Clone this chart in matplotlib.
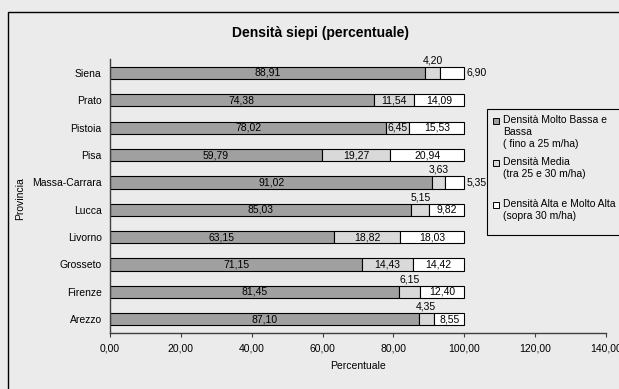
import numpy as np
import matplotlib
matplotlib.use("Agg")
import matplotlib.pyplot as plt
from matplotlib.patches import Rectangle

plt.rcParams['font.family'] = ['Liberation Sans', 'DejaVu Sans']

# Province, bottom to top
province = ['Arezzo', 'Firenze', 'Grosseto', 'Livorno', 'Lucca',
            'Massa-Carrara', 'Pisa', 'Pistoia', 'Prato', 'Siena']
bassa = [87.10, 81.45, 71.15, 63.15, 85.03, 91.02, 59.79, 78.02, 74.38, 88.91]
media = [4.35, 6.15, 14.43, 18.82, 5.15, 3.63, 19.27, 6.45, 11.54, 4.20]
alta = [8.55, 12.40, 14.42, 18.03, 9.82, 5.35, 20.94, 15.53, 14.09, 6.90]

legend_labels = ['Densità Molto Bassa e\nBassa\n( fino a 25 m/ha)',
                 'Densità Media\n(tra 25 e 30 m/ha)',
                 'Densità Alta e Molto Alta\n(sopra 30 m/ha)']
xticks = [0, 20, 40, 60, 80, 100, 120, 140]

bg = '#ebebeb'
colors = ['#a0a0a0', '#d9d9d9', '#ffffff']


def fmt(v):
    return f'{v:.2f}'.replace('.', ',')


fig = plt.figure(figsize=(6.19, 3.89), dpi=100, facecolor=bg)
ax = fig.add_axes([0.1777, 0.1444, 0.8013, 0.7032])
ax.set_facecolor(bg)

y = np.arange(len(province))
left = np.zeros(len(province))
series = [bassa, media, alta]
for k, (vals, col) in enumerate(zip(series, colors)):
    vals = np.array(vals)
    ax.barh(y, vals, left=left, height=0.45, color=col,
            edgecolor='black', linewidth=0.8, zorder=2)
    for i, v in enumerate(vals):
        cx = left[i] + v / 2
        if k == 1 and v < 6.3:
            # narrow middle segment: label sits above the bar
            ax.text(cx, y[i] + 0.28, fmt(v), ha='center', va='bottom', fontsize=7.5)
        elif k == 2 and v < 8:
            # narrow last segment: label to the right of the bar
            ax.text(left[i] + v + 0.6, y[i], fmt(v), ha='left', va='center', fontsize=7.5)
        else:
            ax.text(cx, y[i], fmt(v), ha='center', va='center', fontsize=7.5)
    left = left + vals

ax.set_xlim(0, 140)
ax.set_ylim(-0.5, len(province) - 0.5)
ax.set_xticks(xticks)
ax.set_xticklabels([fmt(t) for t in xticks], fontsize=7.5)
ax.set_yticks(y)
ax.set_yticklabels(province, fontsize=7.5)
ax.tick_params(axis='y', length=0, pad=6)
ax.tick_params(axis='x', length=3, direction='out', color='#404040', pad=5)
for s in ['top', 'right']:
    ax.spines[s].set_visible(False)
for s in ['left', 'bottom']:
    ax.spines[s].set_color('#404040')
    ax.spines[s].set_linewidth(1.0)

ax.set_xlabel('Percentuale', fontsize=7.5, labelpad=5)
fig.text(0.033, 0.49, 'Provincia', rotation=90, ha='center', va='center', fontsize=7.5)
fig.text(0.517, 0.915, 'Densità siepi (percentuale)', ha='center', va='center',
         fontsize=10, fontweight='bold')

# outer chart border
fig.patches.append(Rectangle((8 / 619, -0.01), 1.0, 1 - 12 / 389 + 0.01,
                             transform=fig.transFigure, fill=False,
                             edgecolor='black', linewidth=1.0))

# legend box
W, H = 619, 389
fig.patches.append(Rectangle((487 / W, 1 - 235 / H), 0.3, 126 / H,
                             transform=fig.transFigure, facecolor=bg,
                             edgecolor='black', linewidth=0.8))
entry_tops = [121, 163, 205]
for lab, col, ty in zip(legend_labels, colors, entry_tops):
    fig.patches.append(Rectangle((493 / W, 1 - (ty + 3) / H), 6 / W, 6 / H,
                                 transform=fig.transFigure, facecolor=col,
                                 edgecolor='black', linewidth=0.7))
    fig.text(503 / W, 1 - (ty - 6) / H, lab, ha='left', va='top',
             fontsize=7.5, linespacing=1.25)

fig.savefig('out.png', dpi=100, facecolor=bg)
